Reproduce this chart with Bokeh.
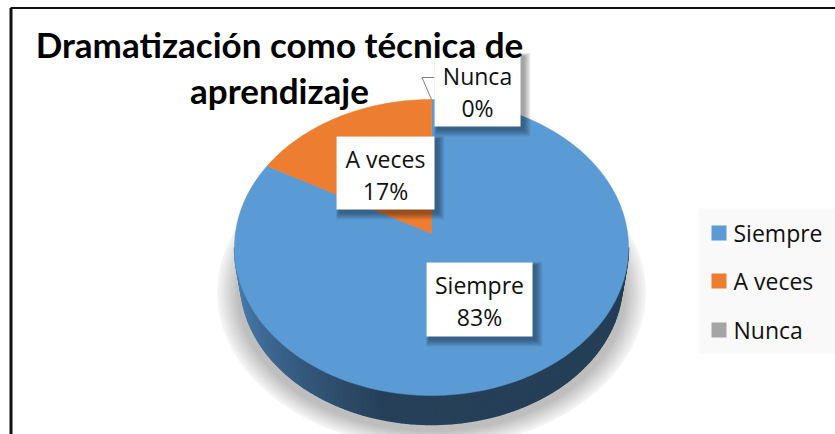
import math
from bokeh.plotting import figure
from bokeh.models import Range1d
from bokeh.core.properties import value
from bokeh.embed import file_html
from bokeh.resources import INLINE

TITLE = ["Dramatización como técnica de", "aprendizaje"]
CATEGORIES = ["Siempre", "A veces", "Nunca"]
VALUES = [83, 17, 0]
PERCENTS = ["83%", "17%", "0%"]
COLORS = ["#5b9bd5", "#ed7d31", "#a5a5a5"]
SHADOW_SHADES = ["#f4f4f4", "#eeeeee", "#e8e8e8", "#e2e2e2", "#dcdcdc", "#d6d6d6", "#d0d0d0", "#cacaca", "#c4c4c4", "#bebebe"]
FONT = value("Open Sans")
TITLE_FONT = value("Lato")

W, H = 835, 434
p = figure(width=W, height=H, output_backend="svg", toolbar_location=None,
           x_range=Range1d(0, W), y_range=Range1d(H, 0),
           min_border=0, outline_line_color=None, background_fill_color="white",
           border_fill_color="white")
p.axis.visible = False
p.grid.visible = False

# --- perspective pie geometry (page pixels) ---
CX, CY, RX, RY, APEX = 431.0, 247.0, 197.0, 148.0, 233.0
B = CY - APEX
C = B / RY
K = RX * math.sqrt(1 - C * C)


def project(theta):
    """Clockwise angle from 12 o'clock on the tilted disc -> page pixels."""
    u, v = math.sin(theta), math.cos(theta)
    d = 1 + C * v
    return CX + K * u / d, CY - (RY * v + B) / d


def mix(a, b, f):
    ca = [int(a[i:i + 2], 16) for i in (1, 3, 5)]
    cb = [int(b[i:i + 2], 16) for i in (1, 3, 5)]
    return "#%02x%02x%02x" % tuple(round(x + (y - x) * f) for x, y in zip(ca, cb))


# frame of the chart
p.line([10.5, 10.5], [H, 7.5], line_color="#111111", line_width=3)
p.line([10, W], [7.5, 7.5], line_color="#111111", line_width=2)

# soft ground shadow: concentric ellipses, light outside and darker inside
for i, shade in enumerate(SHADOW_SHADES):
    f = i / (len(SHADOW_SHADES) - 1)
    p.ellipse(x=[431], y=[292], width=[2 * (214 - 20 * f)], height=[2 * (155 - 16 * f)],
              fill_color=shade, line_color=shade, line_width=1)

# side wall
BCY, BRX, BRY = 281.0, 191.0, 143.0
n = 120
stops = [(0.0, "#4f86b6"), (0.16, "#3f6c98"), (0.42, "#264059"), (1.0, "#243e55")]
for i in range(n):
    a0 = math.pi * i / n
    a1 = math.pi * (i + 1) / n
    x0, y0 = CX - RX * math.cos(a0), CY + RY * math.sin(a0)
    x1, y1 = CX - RX * math.cos(a1), CY + RY * math.sin(a1)
    x2, y2 = CX - BRX * math.cos(a1), BCY + BRY * math.sin(a1)
    x3, y3 = CX - BRX * math.cos(a0), BCY + BRY * math.sin(a0)
    f = (i + 0.5) / n
    for (s0, c0), (s1, c1) in zip(stops, stops[1:]):
        if s0 <= f <= s1:
            col = mix(c0, c1, (f - s0) / (s1 - s0))
            break
    p.patch([x0, x1, x2, x3], [y0, y1, y2, y3], fill_color=col, line_color=col, line_width=1.5)

# top face, slices drawn from the values (clockwise from 12 o'clock)
total = sum(VALUES)
start = 0.0
for val, col in zip(VALUES, COLORS):
    ang = 2 * math.pi * val / total
    if val > 0:
        steps = max(2, int(val * 3))
        pts = [project(start + ang * j / steps) for j in range(steps + 1)]
        p.patch([CX] + [q[0] for q in pts], [APEX] + [q[1] for q in pts],
                fill_color=col, line_color=col, line_width=0.5)
    start += ang

# leader line for the 0% label
p.line([434, 421.5, 431], [77, 77, 99], line_color="#7f7f7f", line_width=1)

# data labels
LABEL_BOXES = [(426, 532, 262, 336), (336, 434, 136, 209), (434, 520, 53, 126)]
for (x0, x1, y0, y1), cat, pct in zip(LABEL_BOXES, CATEGORIES, PERCENTS):
    for s in range(7, 0, -1):
        p.quad(left=x0 + 3 - s / 2, right=x1 + 3 + s, top=y0 + 3 - s / 2, bottom=y1 + 3 + s,
               fill_color="#000000", fill_alpha=0.06, line_color=None)
    p.quad(left=x0, right=x1, top=y0, bottom=y1, fill_color="white", line_color=None)
    xm = (x0 + x1) / 2
    p.text([xm], [y0 + 22], text=[cat], text_font=FONT, text_font_size="23px",
           text_align="center", text_baseline="middle", text_color="#111111")
    p.text([xm], [y0 + 54], text=[pct], text_font=FONT, text_font_size="23px",
           text_align="center", text_baseline="middle", text_color="#111111")

# title
for (tx, ty), t in zip([(279, 43), (279, 89)], TITLE):
    p.text([tx], [ty], text=[t], text_font=TITLE_FONT, text_font_size="35px", text_font_style="bold",
           text_align="center", text_baseline="middle", text_color="#000000")

# legend
p.quad(left=698, right=835, top=208, bottom=353, fill_color="#f9f9f9", line_color=None)
for y, cat, col in zip([232.5, 280.5, 329.5], CATEGORIES, COLORS):
    p.quad(left=711, right=726, top=y - 7.5, bottom=y + 7.5, fill_color=col, line_color=None)
    p.text([733], [y], text=[cat], text_font=FONT, text_font_size="23px",
           text_align="left", text_baseline="middle", text_color="#111111")

open("out.html", "w").write(file_html(p, INLINE))
